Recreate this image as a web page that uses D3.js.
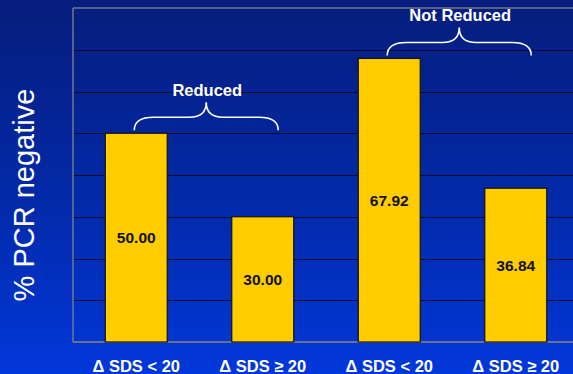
<!DOCTYPE html>
<html>
<head>
<meta charset="utf-8">
<script src="https://cdn.jsdelivr.net/npm/d3@7"></script>
<style>
  html, body { margin: 0; padding: 0; background: #0a2a9a; }
  svg { display: block; }
</style>
</head>
<body>
<svg id="chart" width="573" height="374"></svg>
<script>
// Percent of patients PCR negative, by SDS change
const categories = ["\u0394 SDS < 20", "\u0394 SDS \u2265 20", "\u0394 SDS < 20", "\u0394 SDS \u2265 20"];
const values = [50.00, 30.00, 67.92, 36.84];
const valueLabels = ["50.00", "30.00", "67.92", "36.84"];
const yTicks = [0, 10, 20, 30, 40, 50, 60, 70, 80];
const groups = [
  { name: "Reduced", from: 0, to: 1 },
  { name: "Not Reduced", from: 2, to: 3 }
];

const W = 573, H = 374;
const margin = { left: 73, top: 8, right: -6, bottom: 32 };
const svg = d3.select("#chart");
const FONT = "Liberation Sans, Arial, sans-serif";

// background gradient
const defs = svg.append("defs");
const grad = defs.append("linearGradient").attr("id", "bg")
  .attr("x1", 0).attr("y1", 0).attr("x2", 0).attr("y2", 1);
grad.append("stop").attr("offset", "0%").attr("stop-color", "#061d7c");
grad.append("stop").attr("offset", "55%").attr("stop-color", "#022aaa");
grad.append("stop").attr("offset", "100%").attr("stop-color", "#0237da");
svg.append("rect").attr("width", W).attr("height", H).attr("fill", "url(#bg)");

const x = d3.scaleBand()
  .domain(d3.range(categories.length))
  .range([margin.left, W - margin.right])
  .paddingInner(0.51).paddingOuter(0.255);

const y = d3.scaleLinear().domain([0, 80]).range([H - margin.bottom, margin.top]);

// horizontal gridlines
svg.append("g").selectAll("line").data(yTicks.filter(t => t > 0 && t < 80)).join("line")
  .attr("x1", margin.left).attr("x2", W)
  .attr("y1", d => Math.round(y(d)) + 0.5).attr("y2", d => Math.round(y(d)) + 0.5)
  .attr("stroke", "#050a30").attr("stroke-width", 1.2);

// plot frame: top, left, bottom
const frame = svg.append("g").attr("stroke", "#707890").attr("stroke-width", 1.5).attr("fill", "none");
frame.append("line").attr("x1", margin.left).attr("x2", W).attr("y1", y(80)).attr("y2", y(80));
frame.append("line").attr("x1", margin.left).attr("x2", margin.left).attr("y1", y(80)).attr("y2", y(0));
frame.append("line").attr("x1", margin.left).attr("x2", W).attr("y1", y(0)).attr("y2", y(0))
  .attr("stroke", "#8a8870");

// bars
svg.append("g").selectAll("rect").data(values).join("rect")
  .attr("x", (d, i) => x(i))
  .attr("y", d => y(d))
  .attr("width", x.bandwidth())
  .attr("height", d => y(0) - y(d))
  .attr("fill", "#ffcc00")
  .attr("stroke", "#111").attr("stroke-width", 1.2);

// value labels in the middle of each bar
svg.append("g").selectAll("text").data(values).join("text")
  .attr("x", (d, i) => x(i) + x.bandwidth() / 2)
  .attr("y", d => (y(d) + y(0)) / 2)
  .attr("text-anchor", "middle").attr("dominant-baseline", "central")
  .attr("font-family", FONT)
  .attr("font-weight", "bold").attr("font-size", 15.5).attr("fill", "#111")
  .text((d, i) => valueLabels[i]);

// category labels
svg.append("g").selectAll("text").data(categories).join("text")
  .attr("x", (d, i) => x(i) + x.bandwidth() / 2)
  .attr("y", 366)
  .attr("text-anchor", "middle").attr("dominant-baseline", "central")
  .attr("font-family", FONT)
  .attr("font-weight", "bold").attr("font-size", 16.5).attr("fill", "#fff")
  .text(d => d);

// y axis title
svg.append("text")
  .attr("transform", "translate(34,195) rotate(-90)")
  .attr("text-anchor", "middle")
  .attr("font-family", FONT)
  .attr("font-size", 29).attr("fill", "#fff")
  .text("% PCR negative");

// curly brace path between x0 and x1, baseline yb, tip ytip
function brace(x0, x1, yb, ytip) {
  const xm = (x0 + x1) / 2;
  const yh = (yb + ytip) / 2 + 1;
  const r = Math.min(12, (yb - yh));
  return `M${x0},${yb} Q${x0},${yh} ${x0 + r * 1.6},${yh}` +
    ` L${xm - r * 1.4},${yh} Q${xm},${yh} ${xm},${ytip}` +
    ` Q${xm},${yh} ${xm + r * 1.4},${yh}` +
    ` L${x1 - r * 1.6},${yh} Q${x1},${yh} ${x1},${yb}`;
}

groups.forEach(g => {
  const x0 = x(g.from) + x.bandwidth() / 2 - 2;
  const x1 = x(g.to) + x.bandwidth() * 0.75;
  const top = y(Math.max(values[g.from], values[g.to]));
  const yb = top - 3;
  const ytip = yb - 28;
  svg.append("path").attr("d", brace(x0, x1, yb, ytip))
    .attr("fill", "none").attr("stroke", "#fff").attr("stroke-width", 1.6);
  svg.append("text")
    .attr("x", (x0 + x1) / 2 + 1).attr("y", ytip - 12)
    .attr("text-anchor", "middle").attr("dominant-baseline", "central")
    .attr("font-family", FONT)
    .attr("font-weight", "bold").attr("font-size", 16.5).attr("fill", "#fff")
    .text(g.name);
});
</script>
</body>
</html>
